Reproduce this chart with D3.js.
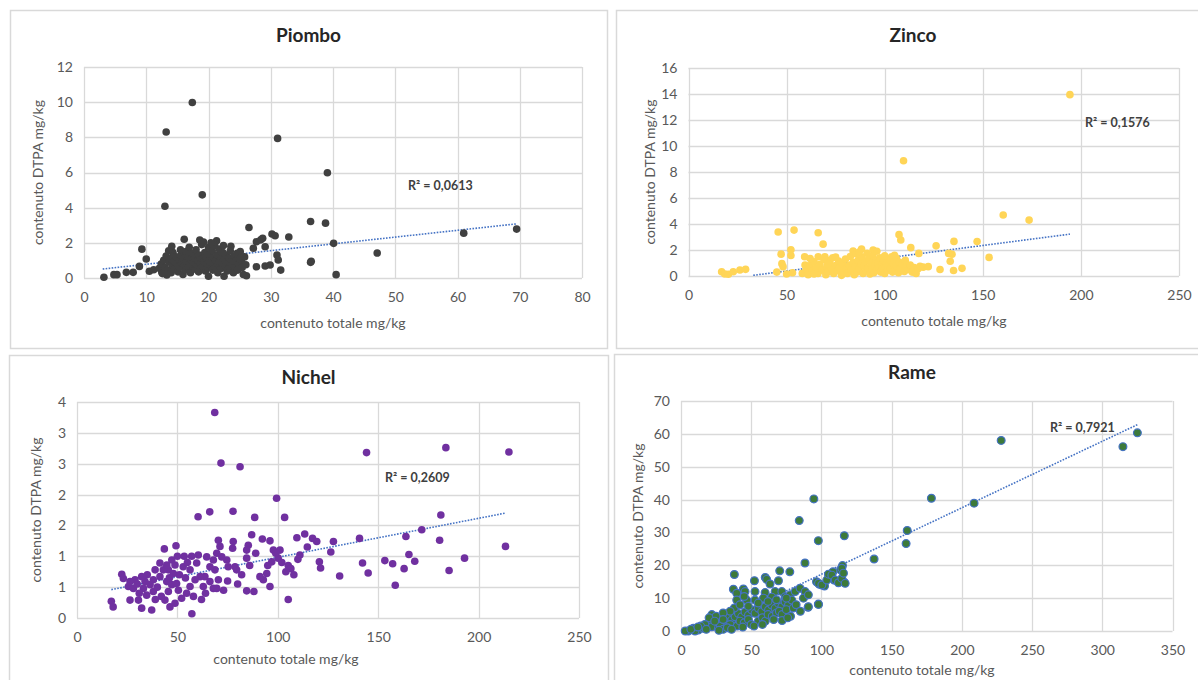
<!DOCTYPE html>
<html>
<head>
<meta charset="utf-8">
<script src="https://cdn.jsdelivr.net/npm/d3@7"></script>
<style>
  body { margin: 0; background: #fff; }
  svg { display: block; font-family: Lato, "Open Sans", sans-serif; }
</style>
</head>
<body>
<svg width="1198" height="680"></svg>
<script>
// values: [contenuto totale, contenuto DTPA]
var piomboPoints = [
  [17.4,9.98],[13.2,8.3],[31.1,7.94],[39.1,5.99],[19.0,4.73],[13.0,4.08],[36.4,3.21],[38.8,3.12],[26.5,2.87],[69.5,2.78],
  [61.0,2.55],[32.9,2.33],[30.2,2.5],[30.7,2.4],[28.4,2.17],[40.1,1.97],[47.1,1.42],[36.4,0.89],[36.5,0.95],[40.5,0.19],
  [3.2,0.04],[4.8,0.19],[5.3,0.19],[6.8,0.32],[7.9,0.32],[8.9,0.66],[9.3,1.64],[10.0,1.08],[10.5,0.38],[11.2,0.47],
  [16.1,2.2],[18.6,2.16],[21.3,2.12],[27.7,2.06],[27.2,1.69],[29.1,1.78],[28.7,2.26],[31.0,1.31],[31.2,1.02],[27.7,0.64],
  [29.1,0.68],[29.9,0.74],[31.6,0.45],[26.1,0.13],[25.1,1.5],[25.3,0.93],[12.5,0.32],[13.3,0.17],[23.6,1.8],
  [12.1,0.55],[12.4,0.8],[12.8,1.0],[13.0,0.6],[13.2,1.25],[13.5,0.45],[13.7,0.9],[13.9,1.1],[14.0,0.3],[14.2,0.7],
  [14.3,1.45],[14.5,0.95],[14.6,0.5],[14.8,1.2],[15.0,0.8],[15.1,0.35],[15.3,1.0],[15.4,0.6],[15.6,1.3],[15.7,0.85],
  [15.9,0.2],[16.0,1.1],[16.1,0.7],[16.3,0.45],[16.4,1.5],[16.5,0.95],[16.7,1.2],[16.8,0.6],[17.0,0.8],[17.1,0.3],
  [17.2,1.05],[17.4,1.4],[17.5,0.65],[17.6,0.9],[17.8,1.15],[17.9,0.5],[18.0,1.6],[18.1,0.75],[18.3,1.0],[18.4,0.35],
  [18.5,1.3],[18.7,0.85],[18.8,0.55],[18.9,1.9],[19.0,1.1],[19.1,0.7],[19.3,0.95],[19.4,1.45],[19.5,0.4],[19.6,1.2],
  [19.7,0.8],[19.9,0.6],[20.0,1.75],[20.0,0.1],[20.1,1.0],[20.2,1.35],[20.3,0.7],[20.5,0.9],[20.6,1.55],[20.7,0.45],
  [20.8,1.15],[20.9,0.8],[21.0,1.85],[21.1,0.6],[21.2,1.0],[21.4,1.3],[21.5,0.3],[21.6,0.75],[21.7,1.65],[21.8,0.95],
  [22.0,1.2],[22.1,0.55],[22.2,0.85],[22.3,1.45],[22.5,0.1],[22.6,1.05],[22.7,0.7],[22.9,1.3],[23.0,0.4],[23.1,0.9],
  [23.3,1.15],[23.4,0.6],[23.5,1.55],[23.7,0.8],[23.8,1.0],[24.0,0.3],[24.1,1.25],[24.3,0.65],[24.4,0.95],[24.6,1.4],
  [24.7,0.45],[24.9,0.8],[25.0,1.1],[25.4,0.6],[25.6,0.2],[25.8,1.2],[26.0,0.75],[14.1,1.8],[15.5,1.6],[16.9,1.75],
  [19.2,2.05],[22.4,1.85],[20.4,2.0],[12.6,0.25],[13.6,1.55]
];

var zincoPoints = [
  [194.4,13.95],[109.6,8.86],[160.4,4.69],[173.6,4.3],[45.7,3.38],[53.8,3.53],[66.1,3.33],[68.6,2.45],[107.3,3.18],[108.2,2.77],
  [135.3,2.66],[147.1,2.65],[126.2,2.32],[113.3,2.18],[153.2,1.43],[132.6,1.74],[134.3,1.67],[133.4,1.13],[128.2,0.5],[135.1,0.42],
  [139.4,0.59],[119.6,0.68],[122.2,0.72],[117.4,1.74],[52.2,2.02],[52.2,1.58],[47.2,1.68],[47.6,0.95],[48.2,0.72],[59.2,1.48],
  [59.4,0.85],[16.9,0.33],[18.5,0.15],[20.3,0.13],[22.8,0.33],[26.2,0.46],[29.1,0.51],[66.1,1.48],[69.5,1.48],[72.0,1.2],
  [83.9,1.92],[88.2,2.08],[94.1,2.0],[103.5,1.48],[106.0,1.36],[45.0,0.3],[50.0,0.15],[53.0,0.25],
  [58,0.2],[60,0.5],[61,0.1],[62,0.8],[63,0.35],[64,1.1],[65,0.6],[66,0.2],[67,0.9],[68,0.45],
  [69,1.25],[70,0.1],[70.5,0.7],[71,0.3],[72,1.0],[73,0.55],[73.5,1.4],[74,0.2],[75,0.8],[76,0.4],
  [76.5,1.15],[77,0.65],[78,0.05],[78.5,0.95],[79,0.35],[80,1.3],[80.5,0.6],[81,0.2],[82,0.85],[82.5,1.5],
  [83,0.45],[84,1.05],[84.5,0.1],[85,0.7],[85.5,1.7],[86,0.3],[86.5,1.2],[87,0.55],[88,0.9],[88.5,1.45],
  [89,0.2],[89.5,0.75],[90,1.1],[90.5,0.4],[91,1.75],[91.5,0.6],[92,1.3],[92.5,0.15],[93,0.95],[93.5,0.5],
  [94,1.55],[94.5,0.25],[95,0.8],[95.5,1.2],[96,0.45],[96.5,1.0],[97,0.65],[97.5,1.4],[98,0.3],[98.5,0.85],
  [99,0.55],[99.5,1.15],[100,0.2],[100.5,0.7],[101,1.0],[101.5,0.45],[102,0.85],[102.5,1.25],[103,0.6],[104,0.3],
  [104.5,0.95],[105,1.6],[105.5,0.5],[106,0.8],[107,0.25],[107.5,1.05],[108,0.6],[109,0.9],[110,0.35],[110.5,1.2],
  [111,0.7],[112,0.5],[113,0.85],[114,0.3],[115,0.65],[116,0.2],[117,0.55],[118,0.75],[62,1.35],[75,1.45],
  [87,1.85],[96,1.9],[100,1.55],[71,0.95],[64,0.15]
];

var nichelPoints = [
  [68.6,3.33],[144.2,2.68],[183.7,2.76],[215.1,2.69],[71.7,2.51],[81.2,2.45],[99.4,1.94],[77.7,1.73],[66.1,1.72],[60.3,1.64],
  [88.5,1.63],[103.4,1.63],[181.2,1.67],[171.7,1.43],[163.8,1.32],[180.6,1.26],[213.4,1.16],[140.7,1.29],[127.7,1.24],[113.4,1.36],
  [117.3,1.29],[109.5,1.3],[114.7,1.15],[111,1.02],[126.4,1.07],[193,0.97],[165.3,1.03],[168.2,0.92],[153.3,0.93],[157.2,0.88],
  [142.2,0.89],[145,0.73],[130.8,0.68],[162.9,0.8],[185.3,0.77],[158.5,0.53],[105.2,0.3],[57.2,0.07],[17.1,0.27],[18.0,0.18],
  [22.3,0.71],[23.1,0.64],[120.7,0.91],[121.3,0.81],[105.2,0.85],[106.5,0.8],[119.4,1.24],[96.1,0.51],[84.5,0.44],[88.1,0.43],
  [92.8,0.62],[94.5,0.72],[91.1,0.67],[92.3,1.28],[96.1,1.25],[97.8,1.1],[101.1,1.1],[100.2,0.97],[97,0.91],[87,1.35],
  [85.3,1.18],[84.5,1.1],[84.5,0.97],[78.7,0.83],[79.5,0.78],[77.8,1.24],[77.5,1.13],[74.6,0.94],[75.3,0.83],[70.4,1.26],
  [71.2,1.16],[72.1,0.99],[69.6,1.05],[67.9,0.94],[68.7,0.78],[70.4,0.62],[64.6,0.99],[66.2,0.83],[63.7,0.67],[66.2,0.59],
  [67.9,0.48],[69.6,0.48],[62.9,0.51],[53.4,1.0],[57.1,1.0],[60.4,1.02],[52.9,0.83],[56.3,0.78],[59.6,0.89],[61.3,0.67],
  [58.8,0.62],[56.3,0.51],[54.6,0.4],[43.5,1.12],[49.3,1.17],[47.2,0.94],[48.8,0.86],[45.5,0.78],[48.0,0.72],[43.0,0.78],
  [41.3,0.67],[44.7,0.59],[47.2,0.54],[49.6,0.56],[50.5,0.45],[45.5,0.43],[43.8,0.29],[46.3,0.18],[48.8,0.24],[52.1,0.32],
  [38.0,0.62],[36.4,0.54],[38.0,0.43],[33.9,0.59],[32.2,0.67],[28.9,0.62],[26.4,0.59],[25.6,0.51],[28.1,0.48],[33.1,0.48],
  [26.4,0.29],[30.6,0.29],[32.2,0.16],[37.2,0.13],[34.7,0.37],[38.9,0.78],[41.3,0.89],[44.7,0.86],[51,0.7],[54,0.65],
  [58,0.35],[62,0.3],[64,0.4],[40,0.5],[35,0.7],[30,0.55],[42,0.35],[55,0.9],[50,1.0],[46,0.65],
  [39,0.3],[31,0.4],[73,0.45],[75,0.6],[80,0.55],[82,0.7],[86,0.85],[89,1.05],[95,0.85],[99,1.05],
  [102,0.9],[104,0.75],[108,0.7],[110,0.95]
];

var ramePoints = [
  [325,60.3],[314.7,56.1],[228,58.0],[178.3,40.4],[208.7,38.9],[94.6,40.2],[84.2,33.6],[97.8,27.5],[116.3,29.0],[161.1,30.6],
  [160.3,26.6],[137.5,21.9],[88.3,20.7],[115,19.9],[113.6,18.6],[116.3,14.8],[109,15.5],[105.4,17],[108.2,18],[96.5,15],
  [98.6,14.2],[102.2,13.7],[38,17.2],[60,16.3],[61,15.7],[70.3,18.3],[77.5,18],[52.3,15.3],[63.4,14.3],[69.4,15.3],
  [97.8,8.2],[90.5,7.2],[89.1,11],[37.3,12.7],[44.4,12.8],[39.7,11.5],[45.6,12.0],[52.7,12.0],[59.9,11.7],[67.0,12.0],
  [39.7,9.4],[46.8,9.4],[52.7,9.4],[58.7,10.0],[64.6,10.3],[71.8,12.0],[74.1,10.4],[77.7,11.0],[81.3,12.0],[84.8,13.0],
  [88.4,12.0],[87.2,10.0],[90.7,11.0],[90.7,7.4],[97.9,8.1],[97.9,14.5],[100.3,14.0],[103.8,15.5],[105,17.3],[107.4,17.0],
  [109.8,15.5],[112.1,14.7],[114.5,16.0],[114.5,19.1],[115.7,17.6],[116.9,14.5],
  [5.2,0],[8.8,0.8],[12.3,0.3],[15.9,0.8],[10,0],[19.5,2.3],[21.9,3.3],[24.2,1.8],[26.6,3.8],[29.0,2.8],
  [31.4,4.3],[33.7,3.3],[21.9,1.3],[26.6,0.8],[31.4,1.3],[33.7,4.8],[36.1,3.3],[38.5,4.3],[40.9,5.3],[43.2,4.3],
  [45.6,5.8],[48.0,4.8],[50.4,6.4],[52.7,5.4],[55.1,6.9],[57.5,5.9],[59.9,7.4],[62.3,6.4],[64.6,7.9],[67.0,6.9],
  [69.4,8.4],[71.8,7.4],[74.1,8.9],[76.5,7.9],[78.9,9.4],
  [22,5],[25,4.5],[28,1.5],[30,0.5],[35,2],[40,1.5],[42,3],[45,2.5],[48,3.5],[50,2],
  [55,3],[58,4],[60,3],[62,5],[65,4.5],[68,5.5],[70,6],[72,5],[75,6.5],[78,4.5],
  [80,7],[82,8],[85,6],[38,7],[42,8],[48,7.5],[55,8.5],[62,9],[68,9.5],[75,10],
  [35,6],[30,5.5],[45,10.5],[20,4],[17,2],[14,1.5],[3,0],[7,0.5],[12,1.2],[27,0.2],
  [33,1],[36,0.5],[44,1.2],[52,1.5],[58,2],[66,3.5],[72,3.2],[76,4],[24,3],[18,0.5],[30,3.5]
];

// linear trendline ends
var piomboTrend = [[3,0.51],[69.5,3.08]];
var zincoTrend = [[33,0.05],[194.4,3.22]];
var nichelTrend = [[17.1,0.46],[213.4,1.7]];
var rameTrend = [[15,0.05],[325,62.8]];

var rSquared = ["R² = 0,0613", "R² = 0,1576", "R² = 0,2609", "R² = 0,7921"];
var titles = ["Piombo", "Zinco", "Nichel", "Rame"];

var piomboXTicks = [0,10,20,30,40,50,60,70,80];
var piomboYTicks = [0,2,4,6,8,10,12];
var zincoXTicks = [0,50,100,150,200,250];
var zincoYTicks = [0,2,4,6,8,10,12,14,16];
var nichelXTicks = [0,50,100,150,200,250];
var nichelYTicks = [0,0.5,1,1.5,2,2.5,3,3.5];
var nichelYLabels = ["0","1","1","2","2","3","3","4"];
var rameXTicks = [0,50,100,150,200,250,300,350];
var rameYTicks = [0,10,20,30,40,50,60,70];

var xTitle = "contenuto totale mg/kg";
var yTitle = "contenuto DTPA mg/kg";

var svg = d3.select("svg");

var panels = [
  { points: piomboPoints, trend: piomboTrend, r2: rSquared[0], title: titles[0],
    xTicks: piomboXTicks, yTicks: piomboYTicks,
    box: [10, 10, 607, 348], plot: [84, 67, 582, 278],
    titleY: 42, xTitleX: 333, xTitleY: 328, yTitleX: 38, r2X: 408, r2Y: 190,
    fill: "#404040", stroke: "none", r: 3.8 },
  { points: zincoPoints, trend: zincoTrend, r2: rSquared[1], title: titles[1],
    xTicks: zincoXTicks, yTicks: zincoYTicks,
    box: [616, 10, 1206, 348], plot: [688.5, 68, 1179, 276],
    titleY: 42, xTitleX: 934, xTitleY: 326, yTitleX: 650, r2X: 1085, r2Y: 127,
    fill: "#ffd557", stroke: "none", r: 3.8 },
  { points: nichelPoints, trend: nichelTrend, r2: rSquared[2], title: titles[2],
    xTicks: nichelXTicks, yTicks: nichelYTicks, yLabels: nichelYLabels,
    box: [9, 355, 608, 690], plot: [77, 402, 579, 618],
    titleY: 384, xTitleX: 286, xTitleY: 664, yTitleX: 36, r2X: 385, r2Y: 482,
    fill: "#7030a0", stroke: "none", r: 3.8 },
  { points: ramePoints, trend: rameTrend, r2: rSquared[3], title: titles[3],
    xTicks: rameXTicks, yTicks: rameYTicks,
    box: [614, 354, 1206, 690], plot: [681, 401, 1172.5, 631],
    titleY: 379, xTitleX: 922, xTitleY: 675, yTitleX: 638, r2X: 1050, r2Y: 432,
    fill: "#3d7a3a", stroke: "#4472c4", r: 3.9 }
];

panels.forEach(function(p, i) {
  var g = svg.append("g").attr("class", "panel");
  var L = p.plot[0], T = p.plot[1], R = p.plot[2], B = p.plot[3];

  //panel frame
  g.append("rect")
    .attr("x", p.box[0] + 0.5).attr("y", p.box[1] + 0.5)
    .attr("width", p.box[2] - p.box[0]).attr("height", p.box[3] - p.box[1])
    .attr("fill", "#fff").attr("stroke", "#d9d9d9").attr("stroke-width", 1.5);

  var x = d3.scaleLinear()
      .domain([p.xTicks[0], p.xTicks[p.xTicks.length - 1]])
      .range([L, R]);
  var y = d3.scaleLinear()
      .domain([p.yTicks[0], p.yTicks[p.yTicks.length - 1]])
      .range([B, T]);

  //gridlines
  g.append("g").selectAll("line").data(p.yTicks).enter().append("line")
    .attr("x1", L).attr("x2", R)
    .attr("y1", function(d) { return Math.round(y(d)) + 0.5; })
    .attr("y2", function(d) { return Math.round(y(d)) + 0.5; })
    .attr("stroke", "#d9d9d9").attr("stroke-width", 1.3);
  g.append("g").selectAll("line").data(p.xTicks).enter().append("line")
    .attr("y1", T).attr("y2", B)
    .attr("x1", function(d) { return Math.round(x(d)) + 0.5; })
    .attr("x2", function(d) { return Math.round(x(d)) + 0.5; })
    .attr("stroke", "#d9d9d9").attr("stroke-width", 1.3);

  //axes (labels only)
  var xAxis = g.append("g")
    .attr("transform", "translate(0," + B + ")")
    .call(d3.axisBottom(x).tickValues(p.xTicks).tickSize(0).tickPadding(14).tickFormat(d3.format("d")));
  var yAxis = g.append("g")
    .attr("transform", "translate(" + L + ",0)")
    .call(d3.axisLeft(y).tickValues(p.yTicks).tickSize(0).tickPadding(11)
      .tickFormat(function(d, j) { return p.yLabels ? p.yLabels[j] : d3.format("d")(d); }));
  [xAxis, yAxis].forEach(function(a) {
    a.select(".domain").remove();
    a.selectAll("text").attr("fill", "#595959")
      .style("font-size", "14px").style("font-family", "Lato, sans-serif");
  });

  //trendline
  var clipId = "clip" + i;
  g.append("clipPath").attr("id", clipId)
    .append("rect").attr("x", L).attr("y", T).attr("width", R - L).attr("height", B - T);

  g.append("line")
    .attr("clip-path", "url(#" + clipId + ")")
    .attr("x1", x(p.trend[0][0])).attr("y1", y(p.trend[0][1]))
    .attr("x2", x(p.trend[1][0])).attr("y2", y(p.trend[1][1]))
    .attr("stroke", "#4472c4").attr("stroke-width", 1.6)
    .attr("stroke-dasharray", "1.6,1.4");

  //points
  g.append("g").selectAll("circle").data(p.points).enter().append("circle")
    .attr("cx", function(d) { return x(d[0]); })
    .attr("cy", function(d) { return y(d[1]); })
    .attr("r", p.r)
    .attr("fill", p.fill)
    .attr("stroke", p.stroke)
    .attr("stroke-width", p.stroke === "none" ? 0 : 1.2);

  //texts
  g.append("text")
    .attr("x", (p.box[0] + Math.min(p.box[2], 1198)) / 2 + (i % 2 ? 6 : 0)).attr("y", p.titleY)
    .attr("text-anchor", "middle")
    .style("font-size", "19px").style("font-weight", "bold").attr("fill", "#262626")
    .text(p.title);

  g.append("text")
    .attr("x", p.xTitleX).attr("y", p.xTitleY)
    .attr("text-anchor", "middle")
    .style("font-size", "14px").attr("fill", "#595959")
    .text(xTitle);

  g.append("text")
    .attr("transform", "translate(" + p.yTitleX + "," + (T + B) / 2 + ") rotate(-90)")
    .attr("text-anchor", "middle").attr("dy", "0.35em")
    .style("font-size", "14px").attr("fill", "#595959")
    .text(yTitle);

  g.append("text")
    .attr("x", p.r2X).attr("y", p.r2Y)
    .style("font-size", "12.5px").style("font-weight", "bold").attr("fill", "#404040")
    .text(p.r2);
});
</script>
</body>
</html>
